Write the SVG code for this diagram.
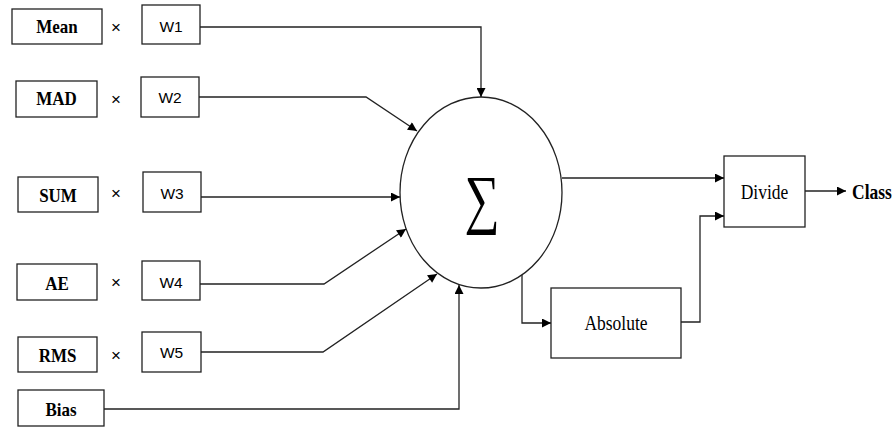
<svg xmlns="http://www.w3.org/2000/svg" width="896" height="428" viewBox="0 0 896 428">
  <style>
    .box { fill: #fff; stroke: #222; stroke-width: 1.3; }
    .wire { fill: none; stroke: #222; stroke-width: 1.3; }
    .feat { font-family: "Liberation Serif", "Times New Roman", serif; font-weight: bold; font-size: 17px; text-anchor: middle; fill: #000; }
    .wt { font-family: "Liberation Sans", Arial, sans-serif; font-size: 15.5px; text-anchor: middle; fill: #000; }
    .mul { font-family: "Liberation Sans", Arial, sans-serif; font-size: 17px; text-anchor: middle; fill: #000; }
    .lbl { font-family: "Liberation Serif", "Times New Roman", serif; font-size: 17.5px; text-anchor: middle; fill: #000; }
  </style>
  <defs>
    <marker id="arrow" viewBox="0 0 10 10" refX="10" refY="5" markerWidth="10" markerHeight="9" markerUnits="userSpaceOnUse" orient="auto">
      <path d="M0,0 L10,5 L0,10 Z" fill="#000"/>
    </marker>
  </defs>

  <rect width="896" height="428" fill="#fff"/>

  <!-- input features -->
  <g id="mean"><rect class="box" x="12" y="9" width="90" height="35"/><text class="feat" transform="translate(57,33) scale(1,1.15)">Mean</text></g>
  <g id="mad"><rect class="box" x="16" y="81" width="81" height="36"/><text class="feat" transform="translate(56.5,105) scale(1,1.15)">MAD</text></g>
  <g id="sum"><rect class="box" x="18" y="177" width="80" height="35"/><text class="feat" transform="translate(58,202) scale(1,1.15)">SUM</text></g>
  <g id="ae"><rect class="box" x="17" y="264" width="80" height="36"/><text class="feat" transform="translate(57,289.5) scale(1,1.15)">AE</text></g>
  <g id="rms"><rect class="box" x="18" y="337" width="79" height="35"/><text class="feat" transform="translate(57.5,362) scale(1,1.15)">RMS</text></g>
  <g id="bias"><rect class="box" x="18" y="390" width="86" height="36"/><text class="feat" transform="translate(61,416) scale(1,1.15)">Bias</text></g>

  <!-- multiplication signs -->
  <g id="times">
    <text class="mul" x="116" y="33">×</text>
    <text class="mul" x="116" y="105">×</text>
    <text class="mul" x="116" y="199">×</text>
    <text class="mul" x="116" y="288">×</text>
    <text class="mul" x="116" y="361">×</text>
  </g>

  <!-- weights -->
  <g id="w1"><rect class="box" x="142" y="5" width="58" height="39"/><text class="wt" x="171" y="31.5">W1</text></g>
  <g id="w2"><rect class="box" x="141" y="77" width="58" height="40"/><text class="wt" x="170" y="103">W2</text></g>
  <g id="w3"><rect class="box" x="143" y="172" width="58" height="40"/><text class="wt" x="172" y="198.5">W3</text></g>
  <g id="w4"><rect class="box" x="142" y="261" width="58" height="39"/><text class="wt" x="171" y="287.5">W4</text></g>
  <g id="w5"><rect class="box" x="142" y="332" width="59" height="40"/><text class="wt" x="171.5" y="358">W5</text></g>

  <!-- summation node -->
  <g id="summation">
    <ellipse class="box" cx="481" cy="192.5" rx="81" ry="95.5"/>
    <text transform="translate(482,221) scale(0.88,1.18)" font-family="'Liberation Serif', 'DejaVu Serif', serif" font-size="56" text-anchor="middle">∑</text>
  </g>

  <!-- absolute and divide -->
  <g id="absolute"><rect class="box" x="551" y="288" width="130" height="70"/><text class="lbl" transform="translate(616,330) scale(1,1.15)">Absolute</text></g>
  <g id="divide"><rect class="box" x="724" y="156" width="81" height="71"/><text class="lbl" transform="translate(764.5,199) scale(1,1.15)">Divide</text></g>
  <g id="class"><text class="feat" transform="translate(852,199) scale(1,1.15)" style="text-anchor:start;font-size:17.5px">Class</text></g>

  <!-- connectors -->
  <g id="connectors">
    <polyline class="wire" points="200,27 481,27 481,97" marker-end="url(#arrow)"/>
    <polyline class="wire" points="199,97 366,97 417,131" marker-end="url(#arrow)"/>
    <polyline class="wire" points="201,197 400,197" marker-end="url(#arrow)"/>
    <polyline class="wire" points="200,284 324,284 406,229" marker-end="url(#arrow)"/>
    <polyline class="wire" points="201,352 323,352 437,274" marker-end="url(#arrow)"/>
    <polyline class="wire" points="104,409 459,409 459,285" marker-end="url(#arrow)"/>
    <polyline class="wire" points="562,178 724,178" marker-end="url(#arrow)"/>
    <polyline class="wire" points="522,275 522,323 551,323" marker-end="url(#arrow)"/>
    <polyline class="wire" points="681,322 700,322 700,216 724,216" marker-end="url(#arrow)"/>
    <polyline class="wire" points="805,191 846,191" marker-end="url(#arrow)"/>
  </g>
</svg>
